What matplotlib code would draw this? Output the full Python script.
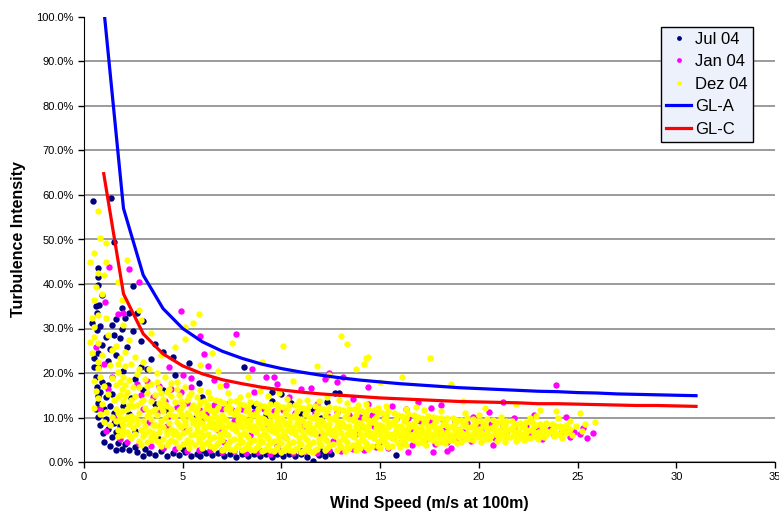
import numpy as np
import matplotlib
matplotlib.use("Agg")
import matplotlib.pyplot as plt
from matplotlib.ticker import PercentFormatter

plt.rcParams['font.family'] = ['Liberation Sans', 'DejaVu Sans']

# wind speed (m/s), turbulence intensity (%)
jul04 = [
    (0.45, 58.6), (1.35, 59.3), (1.5, 49.5), (0.7, 43.6), (2.5, 39.6), (0.9, 37.5), (0.6, 35.0), (0.75, 35.2),
    (1.9, 34.6), (2.3, 33.5), (2.1, 32.4), (2.7, 33.5), (3.0, 31.7), (1.6, 32.1), (1.9, 29.9), (1.5, 28.5),
    (1.8, 27.9), (2.9, 27.2), (4.0, 24.7), (4.5, 23.6), (3.4, 23.1), (2.9, 21.3), (8.1, 21.3), (5.3, 22.2),
    (0.5, 21.3), (4.0, 16.2), (9.5, 13.7), (0.7, 41.6), (0.7, 39.8), (0.65, 33.4), (0.4, 31.3), (0.65, 29.7),
    (0.7, 24.5), (0.5, 23.4), (0.7, 21.4), (0.65, 16.9), (0.7, 14.8), (0.7, 13.3),
    (0.6, 19.0), (0.9, 18.0), (1.2, 17.4), (0.8, 15.8), (1.1, 14.6), (1.4, 15.2), (0.6, 12.0), (1.0, 11.8),
    (1.3, 12.6), (0.7, 10.1), (1.1, 9.6), (1.5, 8.8), (0.8, 8.4), (1.2, 7.4), (0.97, 6.5), (1.0, 4.5),
    (1.4, 5.6), (1.7, 4.2), (1.3, 3.6), (1.6, 6.8), (1.8, 8.0), (1.5, 11.0), (1.2, 22.6), (0.9, 26.2),
    (1.3, 25.4), (1.6, 24.0), (1.1, 28.0), (0.8, 30.6), (1.4, 30.8), (2.2, 25.8), (2.5, 29.5), (2.0, 20.5),
    (2.6, 18.6), (3.2, 21.0), (3.6, 26.5), (2.4, 14.4), (3.0, 16.2), (4.6, 19.5), (5.8, 17.8),
    (1.9, 3.0), (2.3, 2.6), (2.7, 2.2), (3.0, 1.3), (3.3, 2.0), (3.6, 1.6), (3.9, 2.4), (4.2, 1.4),
    (4.5, 2.0), (4.8, 1.6), (5.1, 2.2), (5.4, 1.4), (5.7, 1.9), (5.9, 1.3), (6.2, 2.0), (6.5, 1.5),
    (6.8, 2.1), (7.1, 1.4), (7.4, 1.8), (7.7, 1.2), (8.0, 1.7), (8.3, 1.3), (8.6, 1.9), (8.9, 1.4),
    (9.2, 1.8), (9.5, 1.2), (9.8, 1.7), (10.1, 1.3), (10.4, 1.9), (10.7, 1.4), (11.0, 1.7), (11.3, 1.2),
    (11.6, 0.3), (11.9, 1.6), (12.2, 1.3), (12.5, 1.8), (12.4, 2.4), (15.8, 1.6), (2.1, 4.0), (2.6, 3.4),
    (3.1, 2.9), (4.0, 3.1), (5.0, 2.9), (6.0, 2.7), (7.0, 2.6), (8.0, 2.4), (9.0, 2.5), (10.0, 2.4),
    (11.0, 2.5), (12.0, 2.4), (1.6, 2.6),
    (9.5, 15.7), (10.0, 15.3), (12.7, 15.5), (12.9, 15.5), (11.2, 11.5), (12.0, 9.9), (11.0, 10.8), (11.6, 12.0),
    (6.0, 14.5), (7.2, 13.0), (8.6, 12.6), (3.6, 13.0), (4.2, 11.6), (5.6, 9.8), (9.2, 10.5), (2.0, 12.6),
    (2.3, 10.8), (2.6, 7.0), (3.8, 5.2), (10.5, 13.2), (12.3, 13.4),
]

jan04 = [
    (8.5, 20.9), (9.2, 19.1), (9.6, 19.1), (12.4, 20.0), (9.8, 17.5), (11.0, 16.4), (11.5, 16.6), (12.2, 18.7),
    (13.1, 19.1), (14.4, 16.9), (8.6, 15.7), (7.7, 28.8), (12.3, 19.3), (12.8, 18.0), (18.1, 12.8), (14.4, 13.0),
    (16.9, 13.5), (19.7, 10.1), (23.9, 17.3), (21.2, 13.5), (21.8, 9.9), (20.7, 3.8), (1.27, 43.8), (2.3, 43.4),
    (2.8, 40.4), (1.7, 33.3), (4.9, 33.9), (5.9, 28.3), (6.1, 24.3), (6.3, 21.6), (1.06, 36.0), (2.0, 33.5),
    (5.4, 18.9), (5.0, 19.6), (4.3, 21.3), (0.6, 25.8), (6.6, 18.5), (7.2, 17.2), (11.8, 13.0), (15.6, 12.6),
    (10.4, 14.6), (13.6, 14.2), (20.5, 11.2), (22.8, 10.6), (24.4, 10.2), (16.3, 11.8), (17.6, 12.2),
    (2.7, 17.5), (3.2, 18.2), (3.8, 17.0), (4.4, 16.4), (4.9, 15.8), (5.4, 16.8), (2.9, 15.0), (3.5, 14.6),
    (4.1, 13.6), (4.7, 12.4), (5.2, 13.2), (5.8, 12.0), (3.0, 12.0), (3.7, 11.2), (4.3, 10.4), (6.2, 10.8),
    (6.6, 12.8), (7.0, 12.0), (7.5, 11.6), (8.0, 12.0), (8.6, 11.2), (9.1, 12.0), (9.6, 11.4), (10.1, 11.6),
    (10.7, 11.0), (11.2, 11.6), (11.7, 11.0), (12.3, 10.6), (12.8, 11.2), (13.4, 10.6), (14.0, 10.2), (14.6, 10.6),
    (15.2, 10.0), (15.8, 9.6), (16.4, 9.8), (17.0, 9.2), (17.6, 9.0), (18.2, 9.4), (18.8, 9.0), (19.4, 8.8),
    (20.0, 8.4), (20.6, 8.6), (21.2, 8.2), (21.8, 7.8), (22.4, 8.0), (23.0, 7.6), (23.6, 7.4), (24.2, 7.0),
    (24.8, 6.7), (25.5, 5.4), (24.4, 6.7), (25.1, 6.2), (25.8, 6.6), (25.3, 7.6), (24.6, 5.6), (23.8, 6.0),
    (23.2, 5.2), (22.6, 6.4), (22.0, 5.8), (21.4, 6.8), (20.8, 5.4), (20.2, 6.2), (19.6, 4.8), (19.0, 5.2),
    (18.4, 4.6), (17.8, 4.0), (17.2, 4.4), (16.6, 3.8), (16.0, 4.2), (15.4, 3.2), (14.8, 3.4), (14.2, 2.8),
    (13.6, 3.0), (13.0, 2.4), (12.4, 2.8), (11.8, 2.1), (11.2, 2.4), (10.6, 2.0), (10.0, 2.2), (9.4, 1.9),
    (8.8, 2.3), (8.2, 2.0), (7.6, 2.4), (7.0, 2.2), (6.4, 2.6), (5.8, 2.8), (5.2, 2.4), (4.6, 3.0),
    (4.0, 3.2), (3.4, 3.6), (2.8, 4.0), (2.2, 4.6), (1.8, 5.2), (16.4, 2.2), (17.7, 2.2), (18.4, 2.5),
    (18.6, 3.1),
    (3.3, 9.0), (4.2, 8.2), (5.1, 6.9), (6.0, 9.6), (6.8, 7.2), (7.6, 9.2), (8.4, 6.0), (9.3, 8.4),
    (10.2, 5.6), (11.1, 8.2), (12.0, 6.0), (12.9, 8.4), (13.8, 6.2), (14.7, 8.0), (15.6, 5.6), (16.5, 7.4),
    (17.4, 5.4), (18.3, 7.2), (19.2, 6.8), (20.1, 7.0), (7.1, 4.4), (9.8, 3.6), (12.6, 4.8), (15.0, 4.6),
    (1.0, 22.0), (1.4, 19.0), (1.2, 16.5), (0.8, 12.0), (1.5, 10.0), (1.1, 7.0),
]

dez04 = [
    (0.7, 56.4), (0.8, 50.4), (1.1, 49.2), (0.5, 47.0), (0.3, 45.0), (1.1, 45.0), (0.7, 42.5), (1.0, 42.0),
    (0.6, 39.3), (0.9, 37.8), (0.5, 36.4), (0.4, 32.4), (0.7, 33.0), (1.1, 32.4), (0.5, 30.3), (0.3, 27.0),
    (0.7, 26.7), (0.5, 28.1), (0.7, 22.5), (0.7, 21.1), (0.8, 19.1), (0.7, 14.4), (0.4, 24.5), (1.2, 28.5),
    (1.4, 25.2), (0.9, 24.0), (1.3, 21.8), (0.5, 18.2), (1.0, 17.0), (1.4, 18.8), (0.6, 16.0), (1.2, 15.3),
    (0.9, 13.0), (1.5, 14.0), (0.5, 12.2), (1.1, 11.3), (1.4, 10.2), (0.8, 10.8), (1.3, 8.4), (1.0, 9.0),
    (2.2, 45.4), (1.7, 40.5), (2.8, 34.2), (2.9, 32.0), (5.8, 33.2), (5.5, 31.2), (5.1, 30.3), (5.1, 27.6),
    (1.9, 36.3), (3.4, 29.0), (2.3, 27.5), (4.6, 25.8), (3.9, 24.0), (6.5, 24.5), (2.0, 30.8),
    (13.0, 28.3), (13.3, 26.5), (10.1, 26.0), (14.3, 23.4), (17.5, 23.3), (14.4, 23.6), (14.2, 22.0), (7.5, 26.8),
    (9.0, 22.5), (11.8, 21.5), (12.4, 19.6), (13.8, 21.0), (16.1, 19.2), (18.6, 17.5), (15.0, 18.0), (21.9, 13.0),
    (23.1, 11.7), (23.9, 11.5), (25.1, 11.0), (25.9, 9.0), (24.6, 9.2), (21.1, 10.1), (19.2, 13.8), (20.3, 12.2),
    (8.3, 19.0), (10.6, 18.2), (6.8, 20.5), (5.9, 21.8),
    (1.6, 26.0), (1.8, 23.4), (2.1, 24.8), (2.4, 22.0), (1.7, 20.3), (2.0, 19.2), (2.3, 18.5), (1.6, 17.2),
    (1.9, 16.4), (2.2, 15.8), (2.5, 16.9), (1.7, 14.5), (2.0, 13.6), (2.4, 13.9), (1.6, 12.0), (1.9, 11.4),
    (2.2, 11.8), (2.5, 12.5), (1.8, 10.0), (2.1, 9.6), (2.4, 10.4), (1.6, 9.2), (2.0, 8.0), (2.3, 8.5),
    (1.7, 7.2), (2.2, 6.8), (2.5, 7.6), (1.9, 6.0), (2.4, 5.4), (2.1, 21.5), (1.8, 18.0),
    (1.7, 22.0), (2.1, 17.2), (1.8, 15.0), (2.3, 12.8), (1.7, 11.0), (2.2, 10.2), (1.9, 8.8), (2.4, 9.2),
    (2.0, 7.0), (1.7, 5.8), (2.3, 6.0), (2.1, 14.8),
    (2.6, 23.6), (3.0, 22.4), (3.3, 20.8), (2.7, 19.8), (3.1, 18.6), (3.4, 17.5), (2.8, 16.8), (3.2, 15.6),
    (2.6, 14.8), (3.0, 14.0), (3.4, 13.6), (2.7, 12.8), (3.1, 12.2), (3.5, 11.5), (2.8, 11.0), (3.2, 10.4),
    (2.6, 10.0), (3.0, 9.3), (3.4, 9.6), (2.7, 8.6), (3.1, 8.0), (3.5, 8.4), (2.9, 7.2), (3.3, 7.0),
    (2.6, 6.4), (3.0, 5.8), (3.4, 5.6), (2.8, 4.8), (3.2, 4.4), (3.5, 6.6),
    (2.8, 21.0), (3.2, 17.0), (2.9, 13.4), (3.3, 11.2), (2.7, 9.4), (3.1, 6.6), (3.4, 4.9), (2.9, 3.8),
    (3.7, 20.0), (4.1, 19.0), (4.4, 17.8), (3.8, 16.6), (4.2, 15.8), (3.6, 15.0), (4.0, 14.2), (4.4, 14.8),
    (3.8, 13.2), (4.2, 12.6), (3.6, 12.0), (4.0, 11.4), (4.4, 11.8), (3.7, 10.6), (4.1, 10.0), (4.5, 10.4),
    (3.9, 9.2), (4.3, 8.8), (3.6, 8.4), (4.0, 7.8), (4.4, 7.4), (3.8, 6.8), (4.2, 6.2), (3.6, 5.8),
    (4.0, 5.2), (4.4, 5.0), (3.8, 4.4), (4.2, 3.8), (4.5, 6.4), (3.9, 3.6),
    (3.7, 18.0), (4.3, 16.4), (3.9, 12.4), (4.3, 10.8), (3.8, 8.0), (4.2, 7.0), (3.7, 4.8), (4.3, 4.4),
    (4.1, 13.0), (3.9, 15.6),
    (4.7, 18.0), (5.1, 16.8), (5.4, 15.6), (4.8, 15.0), (5.2, 14.0), (4.6, 13.4), (5.0, 12.8), (5.4, 12.2),
    (4.8, 11.6), (5.2, 11.0), (4.6, 10.4), (5.0, 9.8), (5.4, 10.0), (4.7, 9.0), (5.1, 8.6), (5.5, 8.8),
    (4.9, 7.8), (5.3, 7.4), (4.6, 7.0), (5.0, 6.6), (5.4, 6.0), (4.8, 5.6), (5.2, 5.0), (4.6, 4.6),
    (5.0, 4.0), (5.4, 4.4), (4.8, 3.4), (5.3, 3.2), (5.5, 12.8), (4.9, 13.8),
    (4.7, 16.4), (5.3, 14.8), (4.9, 12.2), (5.3, 10.6), (4.8, 8.4), (5.2, 7.0), (4.7, 6.2), (5.2, 4.2),
    (4.9, 10.8), (5.1, 9.2),
    (5.7, 14.6), (6.1, 13.8), (6.4, 14.4), (5.8, 12.8), (6.2, 12.2), (5.6, 11.6), (6.0, 11.0), (6.4, 11.6),
    (5.8, 10.2), (6.2, 9.8), (5.6, 9.4), (6.0, 8.8), (6.4, 9.0), (5.7, 8.0), (6.1, 7.6), (6.5, 7.8),
    (5.9, 6.8), (6.3, 6.4), (5.6, 6.2), (6.0, 5.6), (6.4, 5.2), (5.8, 4.8), (6.2, 4.2), (5.6, 3.8),
    (6.0, 3.2), (6.4, 3.6), (6.3, 15.8), (5.9, 16.2),
    (5.9, 13.4), (6.3, 12.8), (5.7, 10.8), (6.1, 10.4), (5.9, 9.0), (6.3, 8.2), (5.7, 7.0), (6.1, 6.0),
    (5.8, 5.4), (6.3, 4.6), (6.0, 4.0), (6.4, 10.0), (5.7, 12.0),
    (6.7, 14.0), (7.1, 13.2), (7.4, 13.8), (6.8, 12.4), (7.2, 11.8), (6.6, 11.0), (7.0, 10.6), (7.4, 11.2),
    (6.8, 9.8), (7.2, 9.4), (6.6, 8.8), (7.0, 8.2), (7.4, 8.6), (6.7, 7.4), (7.1, 7.0), (7.5, 7.6),
    (6.9, 6.4), (7.3, 6.0), (6.6, 5.6), (7.0, 5.0), (7.4, 4.8), (6.8, 4.2), (7.2, 3.6), (6.6, 3.2),
    (7.0, 2.8), (7.4, 3.0), (7.3, 15.6), (6.9, 17.0),
    (6.9, 13.6), (7.3, 12.6), (6.7, 11.6), (7.1, 10.0), (6.9, 9.0), (7.3, 8.0), (6.8, 7.8), (7.2, 6.4),
    (6.9, 5.4), (7.3, 4.2), (6.7, 3.8), (7.1, 3.0), (7.4, 12.2), (6.7, 10.2),
    (7.7, 13.6), (8.1, 12.8), (8.4, 13.4), (7.8, 12.0), (8.2, 11.4), (7.6, 10.8), (8.0, 10.2), (8.4, 10.8),
    (7.8, 9.4), (8.2, 9.0), (7.6, 8.4), (8.0, 7.8), (8.4, 8.2), (7.7, 7.0), (8.1, 6.6), (8.5, 7.2),
    (7.9, 6.0), (8.3, 5.6), (7.6, 5.2), (8.0, 4.6), (8.4, 4.4), (7.8, 3.8), (8.2, 3.2), (7.6, 2.8),
    (8.0, 2.6), (8.4, 2.9), (8.3, 15.0), (7.9, 14.6),
    (7.9, 13.0), (8.3, 12.2), (7.7, 11.4), (8.1, 10.0), (7.9, 8.8), (8.3, 7.6), (7.7, 7.8), (8.2, 6.0),
    (7.9, 5.0), (8.3, 4.0), (7.7, 3.4), (8.1, 2.9), (8.4, 9.4), (7.8, 10.6),
    (8.7, 13.2), (9.1, 12.6), (9.4, 13.0), (8.8, 11.8), (9.2, 11.2), (8.6, 10.6), (9.0, 10.0), (9.4, 10.6),
    (8.8, 9.2), (9.2, 8.8), (8.6, 8.2), (9.0, 7.6), (9.4, 8.0), (8.7, 6.8), (9.1, 6.4), (9.5, 7.0),
    (8.9, 5.8), (9.3, 5.4), (8.6, 5.0), (9.0, 4.4), (9.4, 4.2), (8.8, 3.6), (9.2, 3.0), (8.6, 2.6),
    (9.0, 2.4), (9.4, 2.7), (9.3, 14.8), (8.9, 16.0),
    (8.9, 12.8), (9.3, 12.0), (8.7, 11.0), (9.1, 9.6), (8.9, 8.6), (9.3, 7.4), (8.7, 7.4), (9.2, 5.8),
    (8.9, 4.8), (9.3, 3.8), (8.7, 3.2), (9.1, 2.7), (9.4, 9.2), (8.8, 10.2),
    (9.7, 13.0), (10.1, 12.4), (10.4, 12.8), (9.8, 11.6), (10.2, 11.0), (9.6, 10.4), (10.0, 9.8), (10.4, 10.4),
    (9.8, 9.0), (10.2, 8.6), (9.6, 8.0), (10.0, 7.4), (10.4, 7.8), (9.7, 6.6), (10.1, 6.2), (10.5, 6.8),
    (9.9, 5.6), (10.3, 5.2), (9.6, 4.8), (10.0, 4.2), (10.4, 4.0), (9.8, 3.4), (10.2, 2.9), (9.6, 2.5),
    (10.0, 2.3), (10.4, 2.6), (10.3, 14.2), (9.9, 15.4),
    (9.9, 12.6), (10.3, 11.8), (9.7, 10.8), (10.1, 9.4), (9.9, 8.4), (10.3, 7.2), (9.7, 7.2), (10.2, 5.6),
    (9.9, 4.6), (10.3, 3.6), (9.7, 3.0), (10.1, 2.6), (10.4, 9.0), (9.8, 10.0),
    (10.7, 12.8), (11.1, 12.2), (11.4, 12.6), (10.8, 11.4), (11.2, 10.8), (10.6, 10.2), (11.0, 9.6), (11.4, 10.2),
    (10.8, 8.8), (11.2, 8.4), (10.6, 7.8), (11.0, 7.2), (11.4, 7.6), (10.7, 6.4), (11.1, 6.0), (11.5, 6.6),
    (10.9, 5.4), (11.3, 5.0), (10.6, 4.6), (11.0, 4.0), (11.4, 3.8), (10.8, 3.2), (11.2, 2.8), (10.6, 2.4),
    (11.0, 2.2), (11.4, 2.5), (11.3, 14.0), (10.9, 13.6),
    (10.9, 12.4), (11.3, 11.6), (10.7, 10.6), (11.1, 9.2), (10.9, 8.2), (11.3, 7.0), (10.7, 7.0), (11.2, 5.4),
    (10.9, 4.4), (11.3, 3.4), (10.7, 2.9), (11.1, 2.5), (11.4, 8.8), (10.8, 9.8),
    (11.7, 12.6), (12.1, 12.0), (12.4, 12.4), (11.8, 11.2), (12.2, 10.6), (11.6, 10.0), (12.0, 9.4), (12.4, 10.0),
    (11.8, 8.6), (12.2, 8.2), (11.6, 7.6), (12.0, 7.0), (12.4, 7.4), (11.7, 6.2), (12.1, 5.8), (12.5, 6.4),
    (11.9, 5.2), (12.3, 4.8), (11.6, 4.4), (12.0, 3.8), (12.4, 3.6), (11.8, 3.0), (12.2, 2.6), (11.6, 2.3),
    (12.3, 14.6), (11.9, 13.8),
    (11.9, 12.2), (12.3, 11.4), (11.7, 10.4), (12.1, 9.0), (11.9, 8.0), (12.3, 6.8), (11.7, 6.8), (12.2, 5.2),
    (11.9, 4.2), (12.3, 3.2), (11.7, 2.7), (12.4, 8.6), (11.8, 9.6),
    (12.7, 12.2), (13.1, 11.6), (13.4, 12.0), (12.8, 10.8), (13.2, 10.2), (12.6, 9.6), (13.0, 9.0), (13.4, 9.6),
    (12.8, 8.2), (13.2, 7.8), (12.6, 7.2), (13.0, 6.6), (13.4, 7.0), (12.7, 5.8), (13.1, 5.4), (13.5, 6.0),
    (12.9, 4.8), (13.3, 4.4), (12.6, 4.0), (13.0, 3.4), (13.4, 3.2), (12.8, 2.8), (13.2, 2.5), (13.3, 13.2),
    (12.9, 14.0),
    (12.9, 11.8), (13.3, 11.0), (12.7, 10.2), (13.1, 8.6), (12.9, 7.6), (13.3, 6.4), (12.7, 6.6), (13.2, 5.0),
    (12.9, 4.0), (13.3, 3.6), (13.4, 8.2), (12.8, 9.2),
    (13.7, 12.0), (14.1, 11.4), (14.4, 11.8), (13.8, 10.6), (14.2, 10.0), (13.6, 9.4), (14.0, 8.8), (14.4, 9.4),
    (13.8, 8.0), (14.2, 7.6), (13.6, 7.0), (14.0, 6.4), (14.4, 6.8), (13.7, 5.6), (14.1, 5.2), (14.5, 5.8),
    (13.9, 4.6), (14.3, 4.2), (13.6, 3.8), (14.0, 3.2), (14.4, 3.0), (13.8, 2.7), (14.3, 13.0), (13.9, 12.8),
    (13.9, 11.6), (14.3, 10.8), (13.7, 9.8), (14.1, 8.4), (13.9, 7.4), (14.3, 6.2), (13.7, 6.4), (14.2, 4.8),
    (13.9, 3.8), (14.3, 3.4), (14.4, 8.0), (13.8, 9.0),
    (14.7, 11.6), (15.1, 11.0), (15.4, 11.4), (14.8, 10.2), (15.2, 9.6), (14.6, 9.0), (15.0, 8.4), (15.4, 9.0),
    (14.8, 7.6), (15.2, 7.2), (14.6, 6.6), (15.0, 6.0), (15.4, 6.4), (14.7, 5.4), (15.1, 5.0), (15.5, 5.6),
    (14.9, 4.4), (15.3, 4.0), (14.6, 3.6), (15.0, 3.1), (15.4, 3.4), (15.3, 12.6), (14.9, 12.2),
    (14.9, 11.2), (15.3, 10.4), (14.7, 9.6), (15.1, 8.0), (14.9, 7.0), (15.3, 5.8), (14.7, 6.0), (15.2, 4.6),
    (14.9, 3.6), (15.4, 7.8), (14.8, 8.6),
    (15.7, 11.0), (16.1, 10.4), (16.4, 10.8), (15.8, 9.6), (16.2, 9.2), (15.6, 8.6), (16.0, 8.0), (16.4, 8.6),
    (15.8, 7.2), (16.2, 6.8), (15.6, 6.2), (16.0, 5.8), (16.4, 6.2), (15.7, 5.2), (16.1, 4.8), (16.5, 5.4),
    (15.9, 4.2), (16.3, 3.8), (15.6, 3.6), (16.0, 3.3), (16.3, 12.0),
    (15.9, 10.6), (16.3, 9.8), (15.7, 9.2), (16.1, 7.6), (15.9, 6.6), (16.3, 5.6), (15.7, 5.8), (16.2, 4.4),
    (16.4, 7.4), (15.8, 8.2),
    (16.7, 10.6), (17.1, 10.0), (17.4, 10.4), (16.8, 9.4), (17.2, 8.8), (16.6, 8.2), (17.0, 7.8), (17.4, 8.2),
    (16.8, 7.0), (17.2, 6.6), (16.6, 6.0), (17.0, 5.6), (17.4, 6.0), (16.7, 5.0), (17.1, 4.6), (17.5, 5.2),
    (16.9, 4.2), (17.3, 3.9), (17.2, 11.6), (16.8, 12.4),
    (16.9, 10.2), (17.3, 9.4), (16.7, 8.8), (17.1, 7.2), (16.9, 6.4), (17.3, 5.4), (16.7, 5.6), (17.2, 4.2),
    (17.4, 7.0), (16.8, 7.8),
    (17.7, 10.2), (18.1, 9.8), (18.4, 10.0), (17.8, 9.0), (18.2, 8.6), (17.6, 8.0), (18.0, 7.6), (18.4, 8.0),
    (17.8, 6.8), (18.2, 6.4), (17.6, 6.0), (18.0, 5.6), (18.4, 5.8), (17.7, 5.0), (18.1, 4.6), (18.5, 5.0),
    (17.9, 4.2), (18.3, 4.3), (18.1, 11.4),
    (17.9, 9.8), (18.3, 9.2), (17.7, 8.4), (18.1, 7.0), (17.9, 6.2), (18.3, 5.2), (17.7, 5.4), (18.4, 6.8),
    (17.8, 7.6),
    (18.7, 9.8), (19.1, 9.4), (19.4, 9.8), (18.8, 8.8), (19.2, 8.4), (18.6, 7.8), (19.0, 7.4), (19.4, 7.8),
    (18.8, 6.8), (19.2, 6.4), (18.6, 6.0), (19.0, 5.6), (19.4, 5.8), (18.7, 5.0), (19.1, 4.6), (19.5, 5.2),
    (18.9, 4.3), (19.3, 11.0),
    (18.9, 9.4), (19.3, 8.8), (18.7, 8.2), (19.1, 6.8), (18.9, 6.2), (19.3, 5.2), (18.7, 5.4), (19.4, 6.6),
    (18.8, 7.4),
    (19.7, 9.6), (20.1, 9.2), (20.4, 9.6), (19.8, 8.6), (20.2, 8.2), (19.6, 7.8), (20.0, 7.4), (20.4, 7.6),
    (19.8, 6.8), (20.2, 6.4), (19.6, 6.0), (20.0, 5.6), (20.4, 5.8), (19.7, 5.0), (20.1, 4.6), (20.5, 5.2),
    (20.0, 10.6),
    (19.9, 9.2), (20.3, 8.6), (19.7, 8.0), (20.1, 6.8), (19.9, 6.2), (20.3, 5.2), (19.7, 5.4), (20.4, 6.6),
    (19.8, 7.2),
    (20.7, 9.4), (21.1, 9.0), (21.4, 9.2), (20.8, 8.4), (21.2, 8.0), (20.6, 7.6), (21.0, 7.2), (21.4, 7.4),
    (20.8, 6.6), (21.2, 6.2), (20.6, 5.8), (21.0, 5.4), (21.4, 5.6), (20.9, 4.8), (21.3, 4.6),
    (20.9, 9.0), (21.3, 8.4), (20.7, 7.9), (21.1, 6.6), (20.9, 6.0), (21.3, 5.2), (21.4, 6.8), (20.8, 7.0),
    (21.7, 9.2), (22.1, 8.8), (22.4, 9.0), (21.8, 8.2), (22.2, 7.8), (21.6, 7.4), (22.0, 7.0), (22.4, 7.2),
    (21.8, 6.4), (22.2, 6.0), (21.6, 5.6), (22.0, 5.2), (22.4, 5.4), (21.9, 4.8), (22.6, 10.0),
    (21.9, 8.6), (22.3, 8.2), (21.7, 7.7), (22.1, 6.4), (21.9, 5.8), (22.3, 5.0), (22.4, 6.6), (21.8, 6.8),
    (22.7, 9.0), (23.1, 8.6), (23.4, 8.8), (22.8, 8.0), (23.2, 7.6), (22.6, 7.2), (23.0, 6.8), (23.4, 7.0),
    (22.8, 6.2), (23.2, 5.8), (22.6, 5.4), (23.0, 5.2), (23.3, 5.6), (22.9, 10.4),
    (22.9, 8.4), (23.3, 8.0), (22.7, 7.5), (23.1, 6.2), (22.9, 5.6), (23.4, 6.4), (22.8, 6.6),
    (23.7, 8.6), (24.1, 8.2), (24.4, 8.4), (23.8, 7.6), (24.2, 7.2), (23.6, 6.8), (24.0, 6.4), (24.4, 6.6),
    (23.8, 5.8), (24.2, 5.4), (24.6, 7.4), (24.9, 8.0), (25.2, 7.0), (24.7, 6.0), (25.4, 8.6), (24.0, 9.8),
    (23.9, 8.0), (24.3, 7.8), (23.7, 7.2), (24.1, 6.0), (24.5, 6.8), (23.9, 6.6),
]

gl_ws = [1, 2, 3, 4, 5, 6, 7, 8, 9, 10, 11, 12, 13, 14, 15, 16,
         17, 18, 19, 20, 21, 22, 23, 24, 25, 26, 27, 28, 29, 30, 31]
gl_a = [102.0, 57.0, 42.0, 34.5, 30.0, 27.0, 24.9, 23.3, 22.0, 21.0, 20.2, 19.5, 18.9, 18.4, 18.0, 17.6,
        17.3, 17.0, 16.7, 16.5, 16.3, 16.1, 15.9, 15.8, 15.6, 15.5, 15.3, 15.2, 15.1, 15.0, 14.9]
gl_c = [64.8, 37.8, 28.8, 24.3, 21.6, 19.8, 18.5, 17.6, 16.8, 16.2, 15.7, 15.3, 15.0, 14.7, 14.4, 14.2,
        14.0, 13.8, 13.6, 13.5, 13.4, 13.3, 13.1, 13.1, 13.0, 12.9, 12.8, 12.7, 12.7, 12.6, 12.5]

fig = plt.figure(figsize=(7.79, 5.11), dpi=100)
ax = fig.add_axes([84 / 779, 49 / 511, 691 / 779, 445 / 511])

ms = 4.6
for pts, col, lab in [(jul04, '#000080', 'Jul 04'), (jan04, '#ff00ff', 'Jan 04'), (dez04, '#ffff00', 'Dez 04')]:
    p = np.array(pts)
    ax.plot(p[:, 0], p[:, 1], 'o', ls='none', ms=ms, mew=0, color=col, label=lab)

ax.plot(gl_ws, gl_a, color='#0000ff', lw=2.3, label='GL-A', zorder=5)
ax.plot(gl_ws, gl_c, color='#ff0000', lw=2.3, label='GL-C', zorder=5)

ax.set_xlim(0, 35)
ax.set_ylim(0, 100)
ax.set_xticks(range(0, 36, 5))
ax.set_yticks(range(0, 101, 10))
ax.yaxis.set_major_formatter(PercentFormatter(xmax=100, decimals=1))
ax.grid(axis='y', color='#808080', lw=1.1)
ax.set_axisbelow(True)
ax.yaxis.get_gridlines()[-1].set_visible(False)
for s in ['top', 'right']:
    ax.spines[s].set_visible(False)
ax.tick_params(direction='out', length=4, width=1, labelsize=8)

ax.set_xlabel('Wind Speed (m/s at 100m)', fontsize=11.5, fontweight='bold', labelpad=10)
ax.set_ylabel('Turbulence Intensity', fontsize=11.5, fontweight='bold', labelpad=7)

leg = ax.legend(loc='upper right', bbox_to_anchor=(0.968, 0.978), borderaxespad=0, numpoints=1,
                fontsize=12, fancybox=False, framealpha=1, edgecolor='black', facecolor='#edf1fb',
                handlelength=1.5, handletextpad=0.25, labelspacing=0.45, borderpad=0.3, markerscale=0.75)
leg.get_frame().set_linewidth(1)

fig.savefig('out.png', dpi=100)
